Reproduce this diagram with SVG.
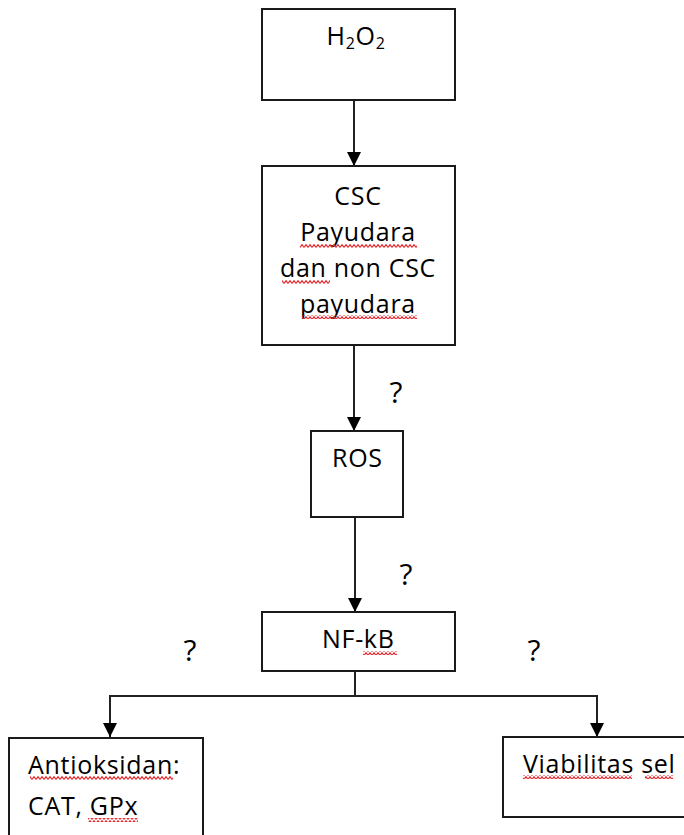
<svg xmlns="http://www.w3.org/2000/svg" width="684" height="835" viewBox="0 0 684 835">
<style>
.box{fill:#fff;stroke:#1a1a1a;stroke-width:2}
.t{font-family:"Open Sans","Liberation Sans",sans-serif;font-size:25px;letter-spacing:0.7px;fill:#000}
.c{text-anchor:middle}
.q{font-family:"Open Sans","Liberation Sans",sans-serif;font-size:30px;fill:#000;text-anchor:middle}
.ln{fill:none;stroke:#222;stroke-width:2}
.sq{fill:url(#sq)}
</style>
<defs>
<marker id="ah" markerUnits="userSpaceOnUse" markerWidth="14" markerHeight="14" viewBox="0 0 14 14" refX="14" refY="7" orient="auto">
<path d="M0,0 L14,7 L0,14 Z" fill="#000"/>
</marker>
<pattern id="sq" width="4" height="4" patternUnits="userSpaceOnUse">
<path d="M0,3.5 L2,0.7 L4,3.5" fill="none" stroke="#e8262a" stroke-width="1.2"/>
</pattern>
</defs>
<g id="connectors">
<line class="ln" x1="354" y1="101" x2="354" y2="166" marker-end="url(#ah)"/>
<line class="ln" x1="354" y1="345" x2="354" y2="431" marker-end="url(#ah)"/>
<line class="ln" x1="355" y1="517" x2="355" y2="612" marker-end="url(#ah)"/>
<polyline class="ln" points="355,671 355,696"/>
<polyline class="ln" points="355,696 110,696 110,737" marker-end="url(#ah)"/>
<polyline class="ln" points="355,696 597,696 597,737" marker-end="url(#ah)"/>
<text class="q" x="396" y="403">?</text>
<text class="q" x="406" y="585">?</text>
<text class="q" x="190" y="661">?</text>
<text class="q" x="534" y="661">?</text>
</g>
<g id="h2o2">
<rect class="box" x="262" y="9" width="193" height="91"/>
<text class="t c" x="356" y="45">H<tspan font-size="16" dy="4">2</tspan><tspan dy="-4">O</tspan><tspan font-size="16" dy="4">2</tspan></text>
</g>
<g id="csc">
<rect class="box" x="262" y="166" width="193" height="179"/>
<text class="t c" x="358" y="205">CSC</text>
<text class="t c" x="358" y="241">Payudara</text>
<text class="t c" x="358" y="277">dan non CSC</text>
<text class="t c" x="358" y="313">payudara</text>
<rect class="sq" x="300" y="244" width="117" height="4"/>
<rect class="sq" x="282" y="280" width="48" height="4"/>
<rect class="sq" x="302" y="315" width="115" height="4"/>
</g>
<g id="ros">
<rect class="box" x="311" y="431" width="92" height="86"/>
<text class="t" x="332" y="467">ROS</text>
</g>
<g id="nfkb">
<rect class="box" x="262" y="612" width="193" height="59"/>
<text class="t" x="322" y="648">NF-kB</text>
<rect class="sq" x="363" y="651" width="34" height="4"/>
</g>
<g id="antioksidan">
<rect class="box" x="9" y="738" width="194" height="110"/>
<text class="t" x="28" y="774">Antioksidan:</text>
<text class="t" x="28" y="815">CAT, GPx</text>
<rect class="sq" x="30" y="776" width="143" height="4"/>
<rect class="sq" x="88" y="818" width="50" height="4"/>
</g>
<g id="viabilitas">
<rect class="box" x="503" y="737" width="200" height="80"/>
<text class="t" x="523" y="773">Viabilitas sel</text>
<rect class="sq" x="523" y="775" width="109" height="4"/>
<rect class="sq" x="645" y="775" width="28" height="4"/>
</g>
</svg>
